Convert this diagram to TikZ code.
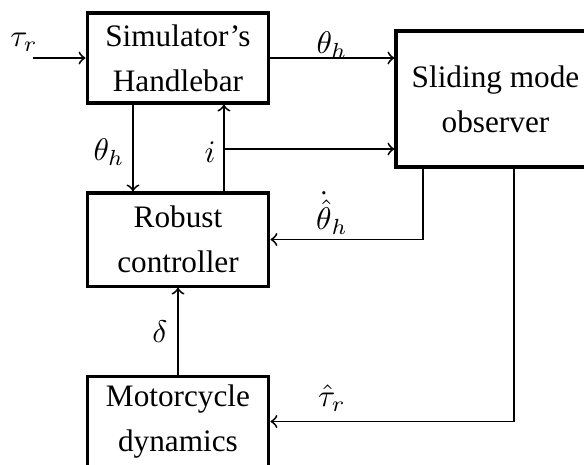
\documentclass[tikz,border=0pt]{standalone}
\usepackage{fontspec}
\setmainfont{Liberation Serif}
\begin{document}
\begin{tikzpicture}[
	x=0.32pt, y=-0.32pt,
	font=\fontsize{10}{14.4}\selectfont,
	block/.style={draw, line width=1pt, align=center, inner sep=0pt},
	signal/.style={draw, semithick, ->}
	]
	\clip (0,0) rectangle (584,465);
	% blocks
	\node[block, minimum width=58.2pt, minimum height=28.8pt] (hb) at (178,58) {Simulator's\\Handlebar};
	\node[block, minimum width=58.2pt, minimum height=29.8pt] (rc) at (178,239.5) {Robust\\controller};
	\node[block, minimum width=63.7pt, minimum height=43.5pt] (ob) at (495.5,99) {Sliding mode\\observer};
	\node[block, minimum width=58.2pt, minimum height=28.8pt] (md) at (178,421.5) {Motorcycle\\dynamics};
	\coordinate (tauin) at (33,58);
	\coordinate (ib) at (224,149);
	% connectors
	\draw[signal] (tauin) -- (hb.west);
	\draw[signal] (hb.east) -- (hb.east -| ob.west);
	\draw[signal] ([xshift=-14.4pt]hb.south) -- ([xshift=-14.4pt]rc.north);
	\draw[signal] ([xshift=14.7pt]rc.north) -- ([xshift=14.7pt]hb.south);
	\draw[signal] (ib) -- (ib -| ob.west);
	\draw[signal] ([xshift=-23.2pt]ob.south) |- (rc.east);
	\draw[signal] ([xshift=5.9pt]ob.south) |- (md.east);
	\draw[signal] (md.north) -- (rc.south);
	% labels
	\node (ltau) at (24,42) {$\tau_r$};
	\node (lth) at (332,45) {$\theta_h$};
	\node (lthd) at (109,152) {$\theta_h$};
	\node (li) at (210,152) {$i$};
	\node (lthdot) at (332,213) {$\dot{\hat{\theta}}_h$};
	\node (ldelta) at (160,332) {$\delta$};
	\node (ltauh) at (332,398) {$\hat{\tau}_r$};
\end{tikzpicture}
\end{document}
